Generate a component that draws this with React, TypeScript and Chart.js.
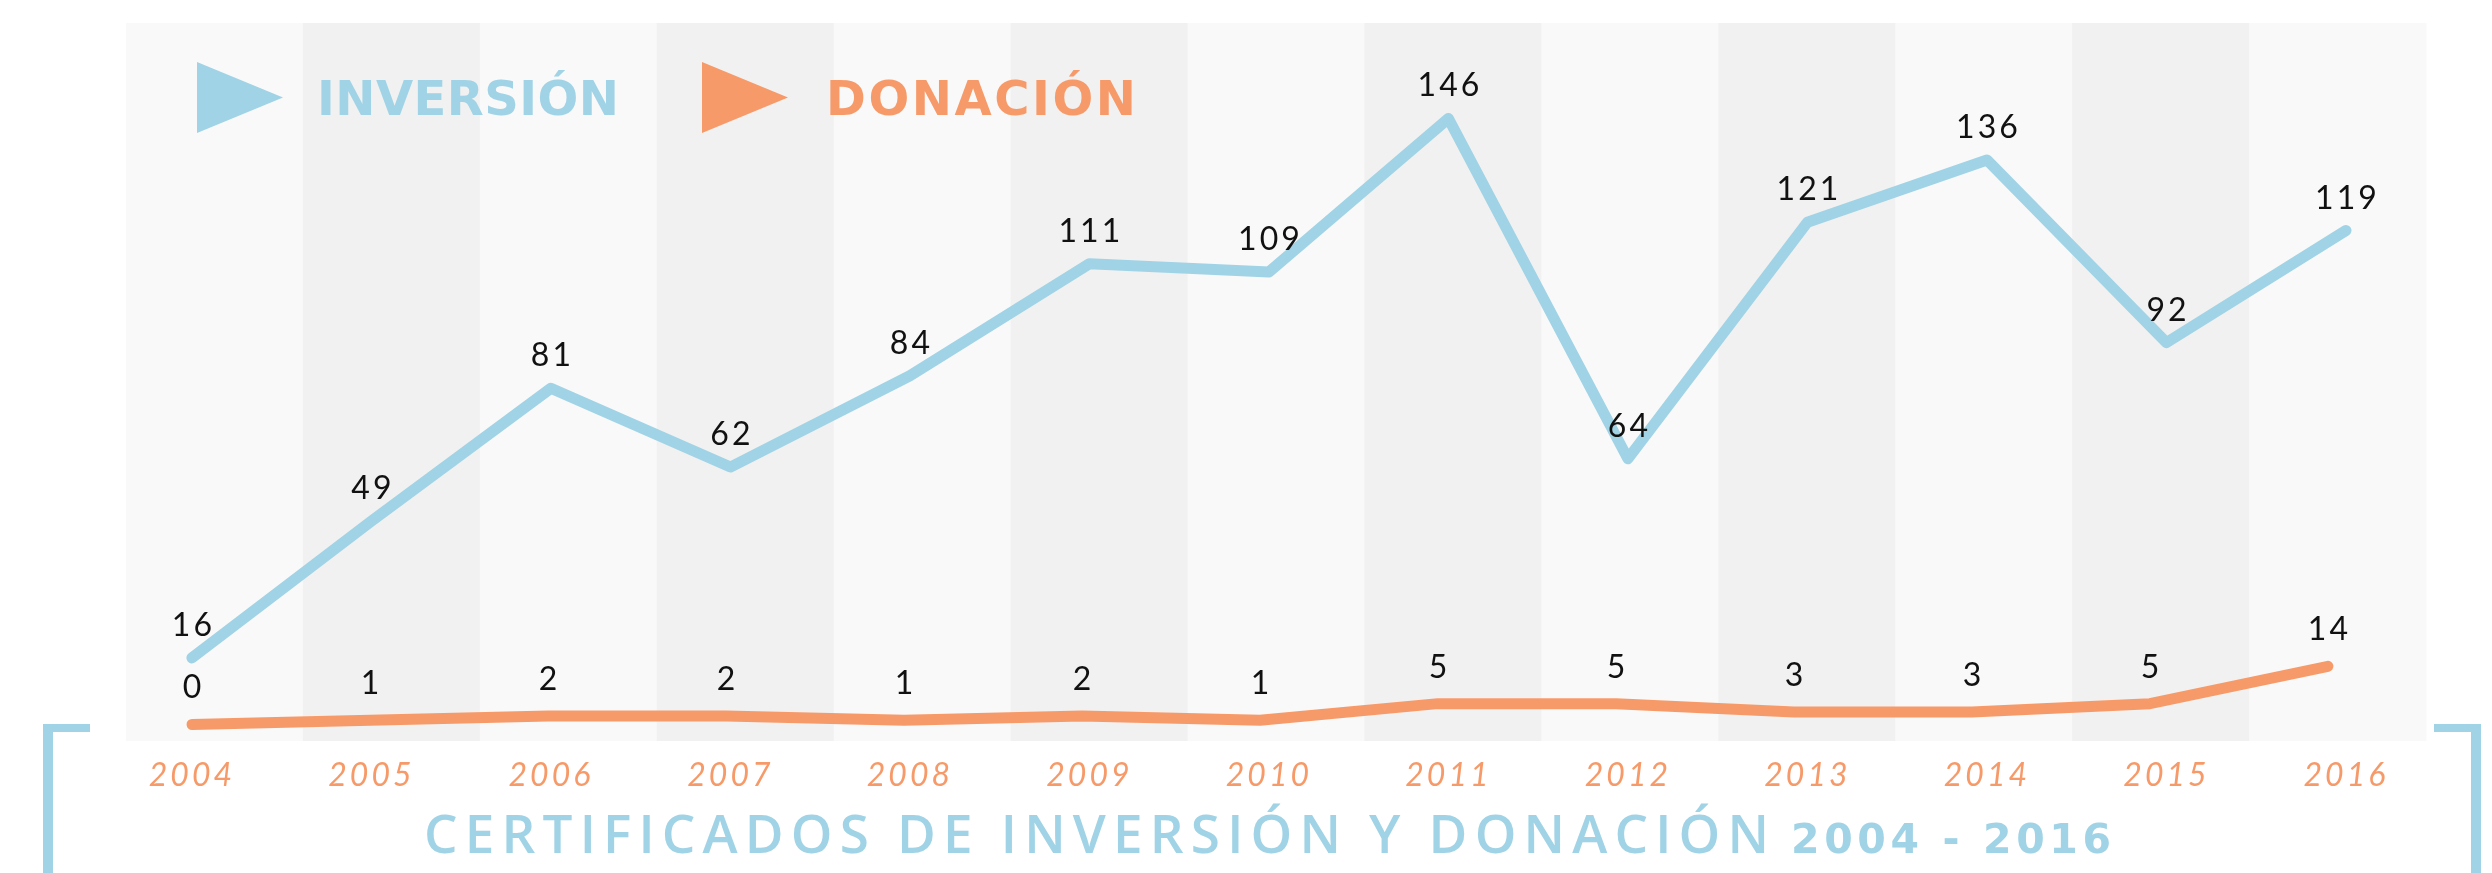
import React, { useEffect, useRef } from 'react';
import { Chart, registerables } from 'chart.js';

Chart.register(...registerables);

const years = ['2004', '2005', '2006', '2007', '2008', '2009', '2010', '2011', '2012', '2013', '2014', '2015', '2016'];
const inversion = [16, 49, 81, 62, 84, 111, 109, 146, 64, 121, 136, 92, 119];
const donacion = [0, 1, 2, 2, 1, 2, 1, 5, 5, 3, 3, 5, 14];
const legendLabels = ['INVERSIÓN', 'DONACIÓN'];
const titleMain = 'CERTIFICADOS DE INVERSIÓN Y DONACIÓN';
const titleYears = '2004 - 2016';

const BLUE = '#a0d3e5';
const ORANGE = '#f79a69';

function fitText(ctx: CanvasRenderingContext2D, text: string, x: number, y: number, width: number, font: string) {
  ctx.font = font;
  (ctx as any).letterSpacing = '0px';
  const w = ctx.measureText(text).width;
  const n = Array.from(text).length;
  const ls = n > 1 ? (width - w) / (n - 1) : 0;
  (ctx as any).letterSpacing = ls + 'px';
  ctx.textAlign = 'left';
  ctx.textBaseline = 'alphabetic';
  ctx.fillText(text, x, y);
  (ctx as any).letterSpacing = '0px';
}

const stripes = {
  id: 'stripes',
  beforeDatasetsDraw(chart: any) {
    const ctx = chart.ctx as CanvasRenderingContext2D;
    (ctx as any).letterSpacing = '0px';
    const a = chart.chartArea;
    const n = years.length;
    const w = (a.right - a.left) / n;
    ctx.save();
    for (let i = 0; i < n; i++) {
      ctx.fillStyle = i % 2 ? '#f1f1f1' : '#f9f9f9';
      ctx.fillRect(a.left + i * w, a.top, w + 0.5, a.bottom - a.top);
    }
    ctx.restore();
  },
};

const tickSpacing = {
  id: 'tickSpacing',
  beforeDraw(chart: any) {
    (chart.ctx as any).letterSpacing = '3px';
  },
};

const valueLabels = {
  id: 'valueLabels',
  afterDatasetsDraw(chart: any) {
    const ctx = chart.ctx as CanvasRenderingContext2D;
    const offsets = [33, 37];
    const series = [inversion, donacion];
    ctx.save();
    ctx.font = '400 32px Lato';
    (ctx as any).letterSpacing = '3px';
    ctx.fillStyle = '#111111';
    ctx.textAlign = 'center';
    ctx.textBaseline = 'alphabetic';
    chart.data.datasets.forEach((_: any, di: number) => {
      const meta = chart.getDatasetMeta(di);
      meta.data.forEach((el: any, i: number) => {
        ctx.fillText(String(series[di][i]), el.x + 1.5, el.y - offsets[di] + 11);
      });
    });
    (ctx as any).letterSpacing = '0px';
    ctx.restore();
  },
};

const decor = {
  id: 'decor',
  afterDraw(chart: any) {
    const ctx = chart.ctx as CanvasRenderingContext2D;
    ctx.save();
    // legend
    const legendColors = [BLUE, ORANGE];
    const triX = [197, 702];
    const textX = [317, 826];
    const textW = [302, 310];
    for (let i = 0; i < 2; i++) {
      ctx.fillStyle = legendColors[i];
      ctx.beginPath();
      ctx.moveTo(triX[i], 62);
      ctx.lineTo(triX[i] + 86, 97.5);
      ctx.lineTo(triX[i], 133);
      ctx.closePath();
      ctx.fill();
      fitText(ctx, legendLabels[i], textX[i], 115, textW[i], 'bold 48px "DejaVu Sans"');
    }
    // brackets
    ctx.fillStyle = BLUE;
    ctx.fillRect(43, 724, 10, 149);
    ctx.fillRect(43, 724, 47, 8);
    ctx.fillRect(2471, 724, 10, 149);
    ctx.fillRect(2434, 724, 47, 8);
    // title
    ctx.fillStyle = BLUE;
    fitText(ctx, titleMain, 424, 853, 1345, '600 53px "Open Sans"');
    fitText(ctx, titleYears, 1791, 853, 320, 'bold 41px "DejaVu Sans"');
    ctx.restore();
  },
};

export default function App() {
  const ref = useRef<HTMLCanvasElement>(null);
  useEffect(() => {
    const canvas = ref.current!;
    const chart = new Chart(canvas, {
      type: 'line',
      data: {
        datasets: [
          {
            label: legendLabels[0],
            data: inversion.map((v, i) => ({ x: i, y: v })),
            borderColor: BLUE,
            backgroundColor: BLUE,
            borderWidth: 11,
            pointRadius: 0,
            tension: 0,
            borderCapStyle: 'round',
            borderJoinStyle: 'round',
            fill: false,
            xAxisID: 'x',
          },
          {
            label: legendLabels[1],
            data: donacion.map((v, i) => ({ x: i, y: v })),
            borderColor: ORANGE,
            backgroundColor: ORANGE,
            borderWidth: 11,
            pointRadius: 0,
            tension: 0,
            borderCapStyle: 'round',
            borderJoinStyle: 'round',
            fill: false,
            xAxisID: 'x2',
          },
        ],
      },
      options: {
        animation: false,
        responsive: false,
        devicePixelRatio: 1,
        layout: { padding: { left: 126, right: 66, top: 23, bottom: 72 } },
        plugins: {
          legend: { display: false },
          tooltip: { enabled: false },
          title: { display: false },
        },
        scales: {
          x: {
            type: 'linear',
            min: -0.367,
            max: 12.446,
            grid: { display: false, drawTicks: false },
            border: { display: false },
            afterBuildTicks: (s: any) => {
              s.ticks = years.map((_, i) => ({ value: i }));
            },
            afterFit: (s: any) => {
              s.height = 60;
            },
            ticks: {
              autoSkip: false,
              maxRotation: 0,
              color: ORANGE,
              padding: 15,
              font: { family: 'Lato', size: 32, style: 'italic', weight: 400 },
              callback: (v: any) => years[Math.round(Number(v))] ?? '',
            },
          },
          x2: {
            type: 'linear',
            display: false,
            min: -0.371,
            max: 12.551,
          },
          y: {
            display: false,
            min: -4,
            max: 169,
          },
        },
      } as any,
      plugins: [tickSpacing, stripes, valueLabels, decor],
    });
    return () => chart.destroy();
  }, []);
  return (
    <div style={{ position: 'absolute', left: 0, top: 0, width: 2492, height: 873, background: '#ffffff' }}>
      <canvas ref={ref} width={2492} height={873} style={{ display: 'block' }} />
    </div>
  );
}
